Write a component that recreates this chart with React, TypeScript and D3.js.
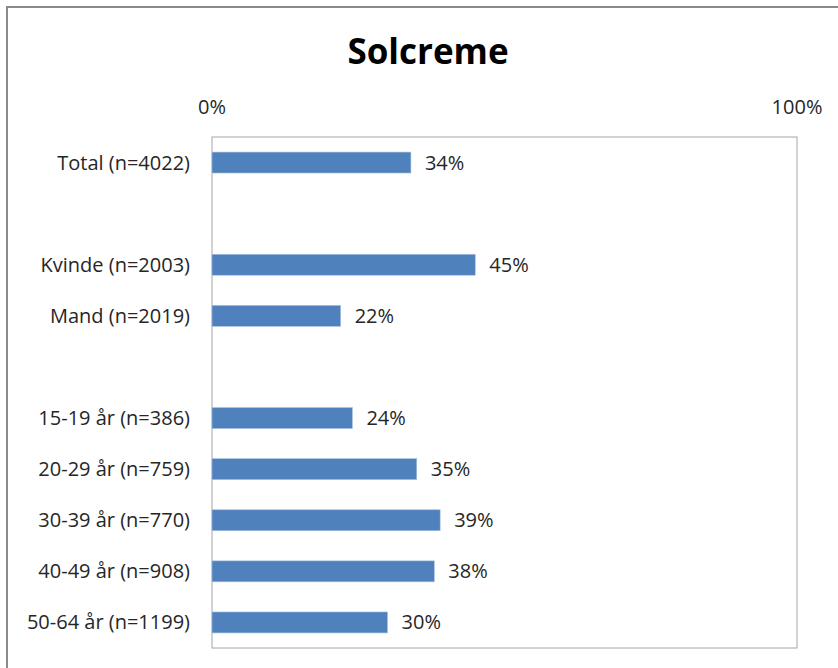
import React from "react";
import * as d3 from "d3";

const categories = [
  "Total (n=4022)",
  "",
  "Kvinde (n=2003)",
  "Mand (n=2019)",
  " ",
  "15-19 år (n=386)",
  "20-29 år (n=759)",
  "30-39 år (n=770)",
  "40-49 år (n=908)",
  "50-64 år (n=1199)",
];
const values: (number | null)[] = [34, null, 45, 22, null, 24, 35, 39, 38, 30];
const axisTicks = [0, 100];
const title = "Solcreme";

const W = 838;
const H = 668;
const plot = { left: 212, right: 797, top: 137, bottom: 648 };
const FONT = "'Open Sans', sans-serif";
const TEXT = "#262626";
const FS = 20;

export default function App() {
  const x = d3.scaleLinear().domain([0, 100]).range([plot.left, plot.right]);
  const y = d3
    .scaleBand<string>()
    .domain(categories)
    .range([plot.top, plot.bottom])
    .paddingInner(0.59)
    .paddingOuter(0.295);

  return (
    <svg
      width={W}
      height={H}
      style={{ position: "absolute", left: 0, top: 0, background: "#fff" }}
    >
      <rect x={0} y={0} width={W} height={H} fill="#fff" />
      <path d={`M7,${H + 5}V7H${W + 5}`} fill="none" stroke="#8a8a8a" strokeWidth={2} />
      <text
        x={428}
        y={64}
        textAnchor="middle"
        fontFamily={FONT}
        fontWeight="bold"
        fontSize={35}
        fill="#000"
      >
        {title}
      </text>
      <rect
        x={plot.left}
        y={plot.top}
        width={plot.right - plot.left}
        height={plot.bottom - plot.top}
        fill="none"
        stroke="#a6a6a6"
        strokeWidth={1}
      />
      {axisTicks.map((t) => (
        <text
          key={t}
          x={x(t)}
          y={107}
          dy="0.35em"
          textAnchor="middle"
          fontFamily={FONT}
          fontSize={FS}
          fill={TEXT}
        >
          {t}%
        </text>
      ))}
      {categories.map((c, i) => {
        const v = values[i];
        const yc = (y(c) ?? 0) + y.bandwidth() / 2;
        return (
          <g key={i}>
            {c.trim() !== "" && (
              <text
                x={190}
                y={yc}
                dy="0.35em"
                textAnchor="end"
                fontFamily={FONT}
                fontSize={FS}
                fill={TEXT}
              >
                {c}
              </text>
            )}
            {v !== null && (
              <>
                <rect
                  x={x(0)}
                  y={y(c)}
                  width={x(v) - x(0)}
                  height={y.bandwidth()}
                  fill="#4f81bd"
                  stroke="#a8c0de"
                  strokeWidth={0.6}
                />
                <text
                  x={x(v) + 14}
                  y={yc}
                  dy="0.35em"
                  fontFamily={FONT}
                  fontSize={FS}
                  fill={TEXT}
                >
                  {v}%
                </text>
              </>
            )}
          </g>
        );
      })}
    </svg>
  );
}
